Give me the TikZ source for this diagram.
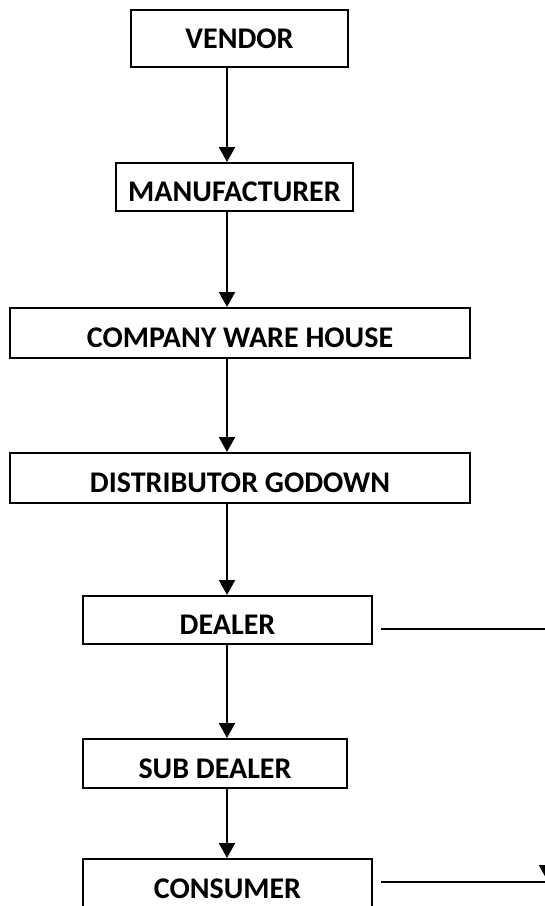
\documentclass[tikz,border=0pt]{standalone}
\usepackage{fontspec}
\setmainfont{Carlito}
\usepackage{tikz}
\usetikzlibrary{positioning,arrows.meta}

\begin{document}
\begin{tikzpicture}[x=0.5pt,y=-0.5pt,line width=1pt,
    stage/.style={draw,inner sep=0pt,font=\bfseries\fontsize{15}{17}\selectfont,
        text height=14.8pt,text depth=0pt},
    flow/.style={-{Triangle[width=8pt,length=7.5pt]}}]
    \clip (0,0) rectangle (545,906);
    \coordinate (spine) at (227,0);
    \node[stage,minimum width=108.5pt,minimum height=28.5pt,text height=9.7pt] (vendor) at (239.5,38.5) {VENDOR};
    \node[stage,minimum width=118.5pt,minimum height=24pt] (maker) at (234.5,187) {MANUFACTURER};
    \node[stage,minimum width=229.75pt,minimum height=25pt] (house) at (240,333) {COMPANY WARE HOUSE};
    \node[stage,minimum width=229.75pt,minimum height=25pt] (godown) at (240,478) {DISTRIBUTOR GODOWN};
    \node[stage,minimum width=144.5pt,minimum height=24pt] (dealer) at (227.5,620) {DEALER};
    \node[stage,minimum width=132pt,minimum height=24.5pt] (subdealer) at (215,763.5) {SUB DEALER};
    \node[stage,minimum width=144.5pt,minimum height=24.5pt] (consumer) at (227.5,883.5) {CONSUMER};
    \draw[flow] (vendor.south -| spine) -- (maker.north -| spine);
    \draw[flow] (maker.south -| spine) -- (house.north -| spine);
    \draw[flow] (house.south -| spine) -- (godown.north -| spine);
    \draw[flow] (godown.south -| spine) -- (dealer.north -| spine);
    \draw[flow] (dealer.south -| spine) -- (subdealer.north -| spine);
    \draw[flow] (subdealer.south -| spine) -- (consumer.north -| spine);
    % side lines
    \coordinate (dturn) at (547,629);
    \coordinate (cturn) at (547,882);
    \draw[flow,shorten <=4pt] (dealer.east |- dturn) -- (dturn) -- ([yshift=1pt]cturn);
    \draw[shorten <=4pt] (consumer.east |- cturn) -- (cturn);
\end{tikzpicture}
\end{document}
